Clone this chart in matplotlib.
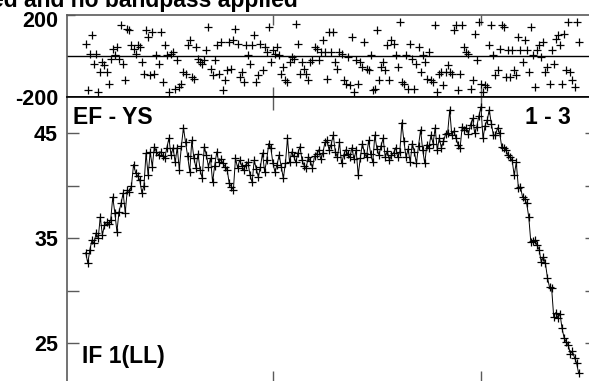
import numpy as np
import matplotlib
matplotlib.use('Agg')
import matplotlib.pyplot as plt
import matplotlib.transforms as mtransforms

plt.rcParams['font.family'] = ['Liberation Sans', 'DejaVu Sans']
plt.rcParams['font.weight'] = 'bold'
plt.rcParams['axes.unicode_minus'] = False

# channels 10..247 (edges flagged)
chan = np.arange(10, 248)

# amplitude, baseline EF - YS, IF 1 (LL)
amp = [33.6, 32.6, 33.9, 34.8, 34.5, 35.5, 35.0, 37.0, 35.3, 36.2,
       36.5, 36.3, 36.7, 38.9, 37.4, 35.6, 37.5, 38.3, 39.3, 37.4,
       39.6, 39.4, 40.0, 42.0, 41.2, 40.9, 40.5, 39.3, 40.0, 43.1,
       41.0, 43.2, 41.8, 43.7, 43.2, 42.9, 43.2, 42.8, 42.6, 43.6,
       44.5, 42.9, 43.6, 42.2, 43.6, 41.5, 43.8, 45.5, 44.1, 42.8,
       41.3, 44.3, 42.6, 41.7, 43.0, 41.5, 40.7, 43.7, 42.9, 41.8,
       42.6, 40.3, 41.9, 43.2, 42.2, 42.5, 42.1, 41.8, 41.5, 40.2,
       39.9, 39.6, 42.6, 41.7, 42.4, 41.9, 41.5, 42.0, 42.2, 41.0,
       40.3, 42.4, 41.6, 40.8, 41.8, 43.1, 41.3, 42.4, 44.0, 43.6,
       42.1, 41.3, 42.0, 42.9, 41.8, 40.7, 42.1, 44.5, 42.2, 43.2,
       42.8, 42.2, 43.1, 43.7, 42.4, 41.9, 41.7, 42.7, 42.3, 41.7,
       42.8, 43.0, 43.4, 42.5, 43.1, 44.1, 44.3, 43.4, 43.9, 44.8,
       43.2, 42.7, 44.1, 42.1, 42.9, 43.4, 43.0, 42.7, 43.6, 42.5,
       43.4, 41.0, 42.6, 44.0, 43.1, 42.7, 44.3, 43.0, 42.2, 44.8,
       43.5, 42.9, 43.8, 44.5, 42.7, 43.3, 42.4, 42.9, 43.1, 43.6,
       42.7, 43.2, 46.0, 44.2, 42.7, 43.5, 42.2, 44.0, 43.2, 42.1,
       43.8, 45.3, 43.4, 42.1, 43.9, 43.6, 44.8, 44.0, 45.5, 43.4,
       44.5, 43.6, 44.2, 44.9, 45.0, 47.2, 44.8, 45.2, 44.5, 43.9,
       43.6, 45.6, 45.3, 45.5, 44.9, 45.8, 46.4, 45.0, 45.6, 46.6,
       47.5, 44.5, 45.7, 46.2, 47.2, 45.9, 44.8, 44.8, 45.5, 45.0,
       43.7, 43.6, 43.4, 42.9, 42.7, 42.4, 41.0, 42.2, 39.8, 39.9,
       38.9, 38.7, 38.3, 37.0, 34.6, 34.7, 34.8, 34.3, 33.9, 32.7,
       33.2, 32.6, 31.2, 30.3, 30.2, 27.5, 27.9, 27.4, 27.8, 26.4,
       25.5, 25.1, 24.8, 24.0, 24.2, 23.6, 23.1, 22.1]

# phase in degrees
phase = [60, -167, 12, 103, -37, 12, -175, -78, -29, -46,
         -78, -135, -13, 35, 3, 44, -13, 150, -37, -119,
         133, 125, 52, 35, 12, 52, 44, -29, -86, 125,
         93, -94, 117, -86, 3, -37, 117, -127, 52, 3,
         -175, 12, 20, -159, -21, -151, -135, -78, -86, 52,
         76, -102, -110, 44, -13, -29, -37, -21, 28, 142,
         -62, -94, -21, 52, -86, 68, -167, -119, -70, 68,
         -62, 76, 133, 60, -102, -78, -127, 52, 3, -37,
         52, 101, -127, -94, 60, -70, 44, 20, 142, -29,
         28, 12, 44, 3, -86, -54, -119, -127, -29, -5,
         -13, 158, 60, -86, -29, -62, -86, -119, -29, -21,
         44, 35, -21, 20, 76, 20, -110, 117, 20, 117,
         -29, -62, 20, 12, -119, -135, -5, -143, 93, -178,
         -21, -135, -29, -54, 68, -62, -70, 3, -167, -159,
         125, -119, -54, -29, -70, 52, -119, 76, 60, 3,
         -54, 166, -127, -135, 3, -159, 60, -13, -159, -37,
         44, -78, 3, -29, -110, 20, -119, -127, 150, -175,
         -86, -78, -143, -78, -46, -78, -86, 125, 150, -167,
         -86, 150, 44, 20, 12, -159, -119, 109, -21, 166,
         -135, -178, -143, -151, 52, 150, 3, -94, -70, 35,
         150, 142, -102, 28, -102, 28, -70, -94, 93, 28,
         -29, 76, 28, -78, 142, 3, -151, 28, 52, -5,
         68, -78, -54, -135, 28, -37, 85, 101, 52, -135,
         109, -70, 166, -78, -119, -151, 166, 68]

W, H = 589, 381
fig = plt.figure(figsize=(W / 100, H / 100), dpi=100)

x0 = 67 / W
wid = 530.4 / W
ax_ph = fig.add_axes([x0, (H - 97) / H, wid, 82 / H])
ax_am = fig.add_axes([x0, (H - 384) / H, wid, 287 / H])

spine_col = '#5a5a5a'
for ax in (ax_ph, ax_am):
    for s in ax.spines.values():
        s.set_color(spine_col)
        s.set_linewidth(1.2)
    ax.set_xlim(1, 256)
    ax.set_xticks([100, 200])
    ax.tick_params(axis='x', which='both', direction='in', top=True,
                   bottom=True, labelbottom=False, colors=spine_col, width=1.0)
    ax.tick_params(axis='y', which='both', direction='in', right=True,
                   colors=spine_col, width=1.0, labelcolor='black',
                   labelsize=15.5, pad=6.5)

# phase panel
ax_ph.plot(chan, phase, '+', color='black', ms=6, mew=0.9)
ax_ph.axhline(0, color='black', lw=1.0)
ax_ph.set_ylim(-200, 200)
ax_ph.set_yticks([-200, 200])
ax_ph.tick_params(axis='x', length=7.5)
ax_ph.tick_params(axis='y', length=6)
ax_ph.spines['bottom'].set_color('black')

# amplitude panel
ax_am.plot(chan, amp, '-', color='black', lw=0.7, marker='+', ms=6, mew=0.9)
ax_am.set_ylim(21.1, 48.43)
ax_am.set_yticks([25, 35, 45])
ax_am.set_yticks([30, 40], minor=True)
ax_am.tick_params(axis='x', length=9.5)
ax_am.tick_params(axis='y', which='both', length=8.5)
ax_am.spines['top'].set_color('black')

for lbl in ax_ph.get_yticklabels() + ax_am.get_yticklabels():
    lbl.set_fontweight('bold')

# the top phase label sits a little below its tick in the original
top_lbl = ax_ph.get_yticklabels()[-1]
top_lbl.set_transform(top_lbl.get_transform() +
                      mtransforms.ScaledTranslation(0, -4 / 100, fig.dpi_scale_trans))

fig.text(298 / W, (H - 7) / H, 'ed and no bandpass applied', ha='right',
         va='baseline', fontsize=16.5, fontweight='bold')
fig.text(73 / W, (H - 124) / H, 'EF - YS', ha='left', va='baseline',
         fontsize=16.5, fontweight='bold')
fig.text(571 / W, (H - 124) / H, '1 - 3', ha='right', va='baseline',
         fontsize=16.5, fontweight='bold')
fig.text(82 / W, (H - 363) / H, 'IF 1(LL)', ha='left', va='baseline',
         fontsize=16.5, fontweight='bold')

fig.savefig('out.png', dpi=100)
